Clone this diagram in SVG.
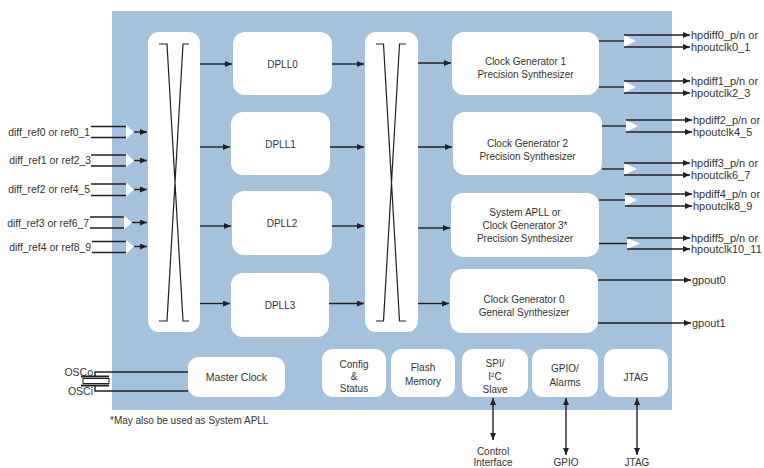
<svg xmlns="http://www.w3.org/2000/svg" width="764" height="468" viewBox="0 0 764 468">
<defs>
<style>
text{font-family:"Liberation Sans",Arial,sans-serif;fill:#333;}
.box{fill:#fff;}
.ln{stroke:#231f20;stroke-width:1.4;fill:none;}
.xl{stroke:#231f20;stroke-width:1.2;fill:none;}
.tri{fill:#fff;}
.lbl{font-size:10.4px;}
.out{font-size:11px;}
.bt{font-size:10px;text-anchor:middle;}
</style>
<marker id="ah" markerUnits="userSpaceOnUse" markerWidth="8" markerHeight="7" refX="7" refY="3" orient="auto-start-reverse">
<path d="M0,0 L7,3 L0,6 z" fill="#231f20"/>
</marker>
</defs>
<rect x="0" y="0" width="764" height="468" fill="#fff"/>
<rect id="chip" x="112" y="11" width="560" height="399" fill="#a4c2dc"/>

<g id="xbar1">
<rect class="box" x="148" y="32" width="52" height="300" rx="11"/>
<path class="xl" d="M159,44 H167 L183,321 H189 M189,44 H183 L167,321 H159"/>
</g>
<g id="xbar2">
<rect class="box" x="365" y="32" width="53" height="300" rx="11"/>
<path class="xl" d="M376,44 H383.5 L399.5,321 H406 M406,44 H399.5 L383.5,321 H376"/>
</g>

<g id="dpll0"><rect class="box" x="233" y="32" width="99" height="63" rx="12"/><text class="bt" x="282.5" y="67.5">DPLL0</text></g>
<g id="dpll1"><rect class="box" x="231" y="112" width="99" height="63" rx="12"/><text class="bt" x="280.5" y="147.5">DPLL1</text></g>
<g id="dpll2"><rect class="box" x="232" y="191" width="100" height="64" rx="12"/><text class="bt" x="282" y="226.5">DPLL2</text></g>
<g id="dpll3"><rect class="box" x="231" y="273" width="98" height="64" rx="12"/><text class="bt" x="280" y="308.5">DPLL3</text></g>

<g id="cg1"><rect class="box" x="452" y="32" width="147" height="63" rx="12"/><text class="bt" x="525.5" y="65">Clock Generator 1</text><text class="bt" x="525.5" y="77.5">Precision Synthesizer</text></g>
<g id="cg2"><rect class="box" x="453" y="112" width="149" height="63" rx="12"/><text class="bt" x="527.5" y="147">Clock Generator 2</text><text class="bt" x="527.5" y="159.5">Precision Synthesizer</text></g>
<g id="apll"><rect class="box" x="451" y="193" width="148" height="64" rx="12"/><text class="bt" x="525" y="216">System APLL or</text><text class="bt" x="525" y="229">Clock Generator 3*</text><text class="bt" x="525" y="242">Precision Synthesizer</text></g>
<g id="cg0"><rect class="box" x="450" y="269" width="148" height="64" rx="12"/><text class="bt" x="524" y="303">Clock Generator 0</text><text class="bt" x="524" y="316">General Synthesizer</text></g>

<g id="mclk"><rect class="box" x="188" y="357" width="97" height="40" rx="11"/><text class="bt" x="236.5" y="381" style="font-size:10.5px">Master Clock</text></g>
<g id="cfg"><rect class="box" x="322" y="349" width="64" height="48" rx="11"/><text class="bt" x="354" y="368">Config</text><text class="bt" x="354" y="380">&amp;</text><text class="bt" x="354" y="392">Status</text></g>
<g id="flash"><rect class="box" x="391" y="349" width="64" height="48" rx="11"/><text class="bt" x="423" y="371">Flash</text><text class="bt" x="423" y="385">Memory</text></g>
<g id="spi"><rect class="box" x="462" y="349" width="66" height="48" rx="11"/><text class="bt" x="495" y="367">SPI/</text><text class="bt" x="495" y="380">I<tspan font-size="6" dy="-3.5">2</tspan><tspan dy="3.5">C</tspan></text><text class="bt" x="495" y="393">Slave</text></g>
<g id="gpio"><rect class="box" x="532" y="349" width="66" height="48" rx="11"/><text class="bt" x="565" y="372">GPIO/</text><text class="bt" x="565" y="386">Alarms</text></g>
<g id="jtag"><rect class="box" x="604" y="349" width="64" height="48" rx="11"/><text class="bt" x="636" y="381">JTAG</text></g>

<g id="inputs">
<text class="lbl" x="90" y="135.5" text-anchor="end">diff_ref0 or ref0_1</text>
<text class="lbl" x="91" y="164" text-anchor="end">diff_ref1 or ref2_3</text>
<text class="lbl" x="90" y="193" text-anchor="end">diff_ref2 or ref4_5</text>
<text class="lbl" x="89" y="226.5" text-anchor="end">diff_ref3 or ref6_7</text>
<text class="lbl" x="91" y="250.5" text-anchor="end">diff_ref4 or ref8_9</text>
</g>

<g id="outputs">
<text class="out" x="691" y="39">hpdiff0_p/n or</text>
<text class="out" x="691" y="51">hpoutclk0_1</text>
<text class="out" x="691" y="85">hpdiff1_p/n or</text>
<text class="out" x="691" y="97">hpoutclk2_3</text>
<text class="out" x="693" y="124">hpdiff2_p/n or</text>
<text class="out" x="693" y="136">hpoutclk4_5</text>
<text class="out" x="691" y="167">hpdiff3_p/n or</text>
<text class="out" x="691" y="179">hpoutclk6_7</text>
<text class="out" x="693" y="198">hpdiff4_p/n or</text>
<text class="out" x="693" y="210">hpoutclk8_9</text>
<text class="out" x="691" y="242">hpdiff5_p/n or</text>
<text class="out" x="691" y="253">hpoutclk10_11</text>
<text class="out" x="692" y="284">gpout0</text>
<text class="out" x="692" y="327">gpout1</text>
</g>

<g id="osc">
<text x="93" y="375.5" text-anchor="end" style="font-size:10.5px">OSCo</text>
<text x="93" y="395" text-anchor="end" style="font-size:10.5px">OSCi</text>
</g>

<g id="bottom-labels">
<text class="bt" x="493" y="455">Control</text>
<text class="bt" x="493" y="466">Interface</text>
<text class="bt" x="566" y="466">GPIO</text>
<text class="bt" x="637" y="466">JTAG</text>
</g>

<text x="110" y="424" style="font-size:10px">*May also be used as System APLL</text>

<g id="connectors">
<g>
<path class="ln" d="M91,126.5 H126 M91,137.5 H126"/>
<polygon class="tri" points="126,125 126,139 134,132"/>
<line class="ln" x1="134" y1="132" x2="147" y2="132" marker-end="url(#ah)"/>
<path class="ln" d="M91,155 H126 M91,166 H126"/>
<polygon class="tri" points="126,153.5 126,167.5 134,160.5"/>
<line class="ln" x1="134" y1="160.5" x2="147" y2="160.5" marker-end="url(#ah)"/>
<path class="ln" d="M91,184 H126 M91,195.5 H126"/>
<polygon class="tri" points="126,182.5 126,197 134,189.5"/>
<line class="ln" x1="134" y1="189.5" x2="147" y2="189.5" marker-end="url(#ah)"/>
<path class="ln" d="M90,217 H124 M90,228 H124"/>
<polygon class="tri" points="124,215.5 124,229.5 132,222.5"/>
<line class="ln" x1="132" y1="222.5" x2="147" y2="222.5" marker-end="url(#ah)"/>
<path class="ln" d="M92,241.5 H126 M92,252.5 H126"/>
<polygon class="tri" points="126,240 126,254 134,246.5"/>
<line class="ln" x1="134" y1="246.5" x2="147" y2="246.5" marker-end="url(#ah)"/>
</g>
<line class="ln" x1="200" y1="64" x2="232" y2="64" marker-end="url(#ah)"/>
<line class="ln" x1="200" y1="147" x2="230" y2="147" marker-end="url(#ah)"/>
<line class="ln" x1="200" y1="226" x2="231" y2="226" marker-end="url(#ah)"/>
<line class="ln" x1="200" y1="303.5" x2="230" y2="303.5" marker-end="url(#ah)"/>
<line class="ln" x1="332" y1="64" x2="364" y2="64" marker-end="url(#ah)"/>
<line class="ln" x1="330" y1="147" x2="364" y2="147" marker-end="url(#ah)"/>
<line class="ln" x1="332" y1="226" x2="364" y2="226" marker-end="url(#ah)"/>
<line class="ln" x1="329" y1="303.5" x2="364" y2="303.5" marker-end="url(#ah)"/>
<line class="ln" x1="418" y1="63" x2="451" y2="63" marker-end="url(#ah)"/>
<line class="ln" x1="418" y1="147" x2="452" y2="147" marker-end="url(#ah)"/>
<line class="ln" x1="418" y1="228" x2="450" y2="228" marker-end="url(#ah)"/>
<line class="ln" x1="418" y1="303.5" x2="449" y2="303.5" marker-end="url(#ah)"/>
<g>
<line class="ln" x1="599" y1="41" x2="624" y2="41"/>
<polygon class="tri" points="624,35 624,47 636,41"/>
<line class="ln" x1="624" y1="35" x2="690" y2="35" marker-end="url(#ah)"/>
<line class="ln" x1="624" y1="47" x2="690" y2="47" marker-end="url(#ah)"/>
<line class="ln" x1="599" y1="87" x2="624" y2="87"/>
<polygon class="tri" points="624,81 624,93 636,87"/>
<line class="ln" x1="624" y1="81" x2="690" y2="81" marker-end="url(#ah)"/>
<line class="ln" x1="624" y1="93" x2="690" y2="93" marker-end="url(#ah)"/>
<line class="ln" x1="602" y1="126" x2="626" y2="126"/>
<polygon class="tri" points="626,120 626,132 638,126"/>
<line class="ln" x1="626" y1="120" x2="692" y2="120" marker-end="url(#ah)"/>
<line class="ln" x1="626" y1="132" x2="692" y2="132" marker-end="url(#ah)"/>
<line class="ln" x1="602" y1="169" x2="624" y2="169"/>
<polygon class="tri" points="624,163 624,175 637,169"/>
<line class="ln" x1="624" y1="163" x2="690" y2="163" marker-end="url(#ah)"/>
<line class="ln" x1="624" y1="175" x2="690" y2="175" marker-end="url(#ah)"/>
<line class="ln" x1="599" y1="200" x2="625" y2="200"/>
<polygon class="tri" points="625,194 625,206 637,200"/>
<line class="ln" x1="625" y1="194" x2="692" y2="194" marker-end="url(#ah)"/>
<line class="ln" x1="625" y1="206" x2="692" y2="206" marker-end="url(#ah)"/>
<line class="ln" x1="599" y1="243.5" x2="627" y2="243.5"/>
<polygon class="tri" points="627,238 627,249 640,243.5"/>
<line class="ln" x1="627" y1="238" x2="690" y2="238" marker-end="url(#ah)"/>
<line class="ln" x1="627" y1="249" x2="690" y2="249" marker-end="url(#ah)"/>
<line class="ln" x1="598" y1="280" x2="691" y2="280" marker-end="url(#ah)"/>
<line class="ln" x1="598" y1="323" x2="691" y2="323" marker-end="url(#ah)"/>
</g>
<path class="ln" d="M188,372 H95 V376 M95,386 V391 H188"/>
<line x1="81" y1="376.5" x2="109" y2="376.5" stroke="#231f20" stroke-width="2"/>
<rect x="83" y="378.5" width="26" height="5" fill="#fff" stroke="#231f20" stroke-width="1"/>
<line x1="81" y1="385.5" x2="109" y2="385.5" stroke="#231f20" stroke-width="2"/>
<line class="ln" x1="493" y1="398" x2="493" y2="440" marker-start="url(#ah)" marker-end="url(#ah)"/>
<line class="ln" x1="566" y1="398" x2="566" y2="455" marker-start="url(#ah)" marker-end="url(#ah)"/>
<line class="ln" x1="637" y1="398" x2="637" y2="455" marker-start="url(#ah)" marker-end="url(#ah)"/>
</g>
</svg>
